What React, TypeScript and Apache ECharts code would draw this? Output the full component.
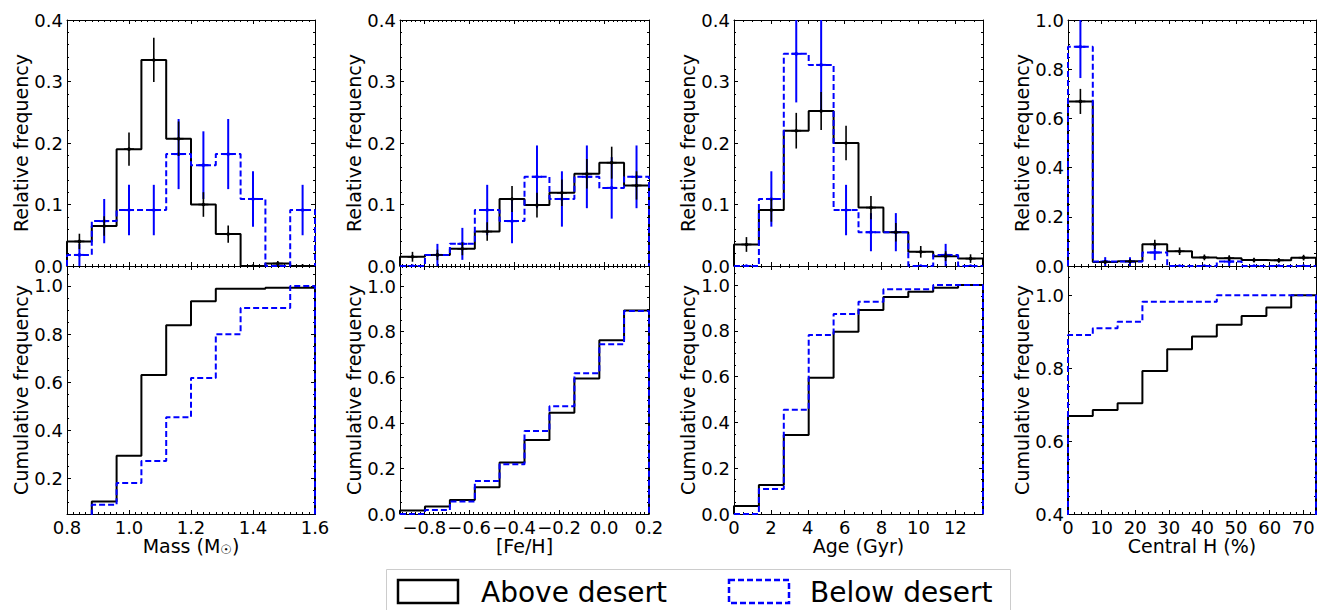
import React, { useEffect, useRef } from "react";
import * as echarts from "echarts";

// ---------- Mass ----------
const massEdges = [0.8, 0.88, 0.96, 1.04, 1.12, 1.2, 1.28, 1.36, 1.44, 1.52, 1.6];
const massAbove = [0.04, 0.065, 0.19, 0.335, 0.207, 0.1, 0.052, 0, 0.004, 0];
const massAboveErr = [0.0125, 0.016, 0.027, 0.036, 0.028, 0.02, 0.014, 0, 0.004, 0];
const massBelow = [0.018, 0.073, 0.091, 0.091, 0.182, 0.164, 0.182, 0.109, 0, 0.091];
const massBelowErr = [0.018, 0.036, 0.041, 0.041, 0.057, 0.055, 0.057, 0.045, 0, 0.041];
const massAboveCum = [0.04, 0.105, 0.295, 0.63, 0.837, 0.937, 0.989, 0.989, 0.993, 0.993];
const massBelowCum = [0.018, 0.091, 0.182, 0.273, 0.455, 0.618, 0.8, 0.909, 0.909, 1.0];

// ---------- [Fe/H] ----------
const feEdges = [-0.908, -0.797, -0.686, -0.575, -0.465, -0.354, -0.243, -0.132, -0.021, 0.089, 0.2];
const feAbove = [0.015, 0.018, 0.028, 0.056, 0.109, 0.099, 0.119, 0.15, 0.168, 0.131];
const feAboveErr = [0.008, 0.0085, 0.0105, 0.015, 0.021, 0.02, 0.0215, 0.024, 0.026, 0.023];
const feBelow = [0, 0.018, 0.036, 0.091, 0.073, 0.145, 0.109, 0.145, 0.127, 0.145];
const feBelowErr = [0, 0.018, 0.026, 0.041, 0.036, 0.051, 0.045, 0.051, 0.05, 0.051];
const feAboveCum = [0.015, 0.033, 0.061, 0.117, 0.226, 0.325, 0.444, 0.594, 0.762, 0.893];
const feBelowCum = [0, 0.018, 0.055, 0.145, 0.218, 0.364, 0.473, 0.618, 0.745, 0.891];

// ---------- Age ----------
const ageEdges = [0, 1.35, 2.7, 4.05, 5.4, 6.75, 8.1, 9.45, 10.8, 12.15, 13.5];
const ageAbove = [0.035, 0.091, 0.22, 0.252, 0.2, 0.095, 0.055, 0.023, 0.016, 0.012];
const ageAboveErr = [0.012, 0.019, 0.029, 0.031, 0.028, 0.019, 0.015, 0.0095, 0.008, 0.007];
const ageBelow = [0, 0.109, 0.345, 0.327, 0.091, 0.055, 0.055, 0, 0.018, 0];
const ageBelowErr = [0, 0.045, 0.079, 0.077, 0.041, 0.031, 0.031, 0, 0.018, 0];
const ageAboveCum = [0.035, 0.127, 0.345, 0.595, 0.796, 0.891, 0.948, 0.971, 0.988, 1.0];
const ageBelowCum = [0, 0.109, 0.455, 0.782, 0.873, 0.927, 0.982, 0.982, 1.0, 1.0];

// ---------- Central H ----------
const chEdges = [0, 7.38, 14.76, 22.14, 29.52, 36.9, 44.28, 51.66, 59.04, 66.42, 73.8];
const chAbove = [0.669, 0.016, 0.019, 0.088, 0.06, 0.035, 0.032, 0.024, 0.023, 0.034];
const chAboveErr = [0.051, 0.008, 0.0086, 0.0186, 0.0153, 0.0117, 0.0112, 0.0097, 0.0095, 0.0115];
const chBelow = [0.891, 0.018, 0.018, 0.055, 0, 0, 0.018, 0, 0, 0];
const chBelowErr = [0.127, 0.018, 0.018, 0.031, 0, 0, 0.018, 0, 0, 0];
const chAboveCum = [0.669, 0.685, 0.704, 0.792, 0.852, 0.887, 0.919, 0.943, 0.966, 1.0];
const chBelowCum = [0.891, 0.909, 0.927, 0.982, 0.982, 0.982, 1.0, 1.0, 1.0, 1.0];

// ---------- Labels ----------
const xTitles = ["Mass (M{s|☉})", "[Fe/H]", "Age (Gyr)", "Central H (%)"];
const topTitle = "Relative frequency";
const bottomTitle = "Cumulative frequency";
const legendLabels = ["Above desert", "Below desert"];

const BLACK = "#000000";
const BLUE = "#0000ff";
const FONT = "DejaVu Sans";

const colLeft = [67, 400, 734, 1068];
const colWidth = [248, 249, 249, 248];
const topY = 20;
const midY = 266;
const botY = 514;

const fmt1 = (v: number) => v.toFixed(1).replace("-", "\u2212");
const fmt0 = (v: number) => String(Math.round(v));

const panels = [
  {
    edges: massEdges, above: massAbove, aboveErr: massAboveErr, below: massBelow, belowErr: massBelowErr,
    aboveCum: massAboveCum, belowCum: massBelowCum,
    x: { min: 0.8, max: 1.6, interval: 0.2, minor: 10, fmt: fmt1, showMin: true, showMax: true },
    yTop: { min: 0, max: 0.4, interval: 0.1, minor: 5 },
    yBot: { min: 0.053, max: 1.083, splitNumber: 5, minor: 4, showMin: false },
  },
  {
    edges: feEdges, above: feAbove, aboveErr: feAboveErr, below: feBelow, belowErr: feBelowErr,
    aboveCum: feAboveCum, belowCum: feBelowCum,
    x: { min: -0.908, max: 0.2, splitNumber: 5, minor: 10, fmt: fmt1, showMin: false, showMax: true },
    yTop: { min: 0, max: 0.4, interval: 0.1, minor: 5 },
    yBot: { min: 0, max: 1.088, interval: 0.2, minor: 4, showMin: true },
  },
  {
    edges: ageEdges, above: ageAbove, aboveErr: ageAboveErr, below: ageBelow, belowErr: ageBelowErr,
    aboveCum: ageAboveCum, belowCum: ageBelowCum,
    x: { min: 0, max: 13.5, interval: 2, minor: 4, fmt: fmt0, showMin: true, showMax: false },
    yTop: { min: 0, max: 0.4, interval: 0.1, minor: 5 },
    yBot: { min: 0, max: 1.083, interval: 0.2, minor: 4, showMin: true },
  },
  {
    edges: chEdges, above: chAbove, aboveErr: chAboveErr, below: chBelow, belowErr: chBelowErr,
    aboveCum: chAboveCum, belowCum: chBelowCum,
    x: { min: 0, max: 73.8, interval: 10, minor: 5, fmt: fmt0, showMin: true, showMax: false },
    yTop: { min: 0, max: 1.0, interval: 0.2, minor: 4 },
    yBot: { min: 0.4, max: 1.08, interval: 0.2, minor: 4, showMin: true },
  },
];

function stepPoints(edges: number[], vals: number[]) {
  const pts: number[][] = [[edges[0], 0]];
  for (let i = 0; i < vals.length; i++) {
    pts.push([edges[i], vals[i]]);
    pts.push([edges[i + 1], vals[i]]);
  }
  pts.push([edges[edges.length - 1], 0]);
  return pts;
}

function axisCommon(minor: number, showLabel: boolean) {
  return {
    axisLine: { show: true, onZero: false, lineStyle: { color: BLACK, width: 1 } },
    axisTick: { show: true, inside: true, length: 4, lineStyle: { color: BLACK, width: 1 } },
    minorTick: { show: true, splitNumber: minor, length: 2, lineStyle: { color: BLACK, width: 1 } },
    splitLine: { show: false },
    minorSplitLine: { show: false },
    axisLabel: { show: showLabel },
  };
}

function rangeOf(r: any) {
  const o: any = { min: r.min, max: r.max };
  if (r.interval !== undefined) o.interval = r.interval;
  if (r.splitNumber !== undefined) o.splitNumber = r.splitNumber;
  return o;
}

function stepSeries(gi: number, edges: number[], vals: number[], color: string, dashed: boolean) {
  return {
    type: "line",
    xAxisIndex: 2 * gi,
    yAxisIndex: 2 * gi,
    data: stepPoints(edges, vals),
    symbol: "none",
    silent: true,
    clip: true,
    lineStyle: { color, width: 2, type: dashed ? [6, 3] : "solid" },
    z: dashed ? 3 : 2,
  };
}

function errorSeries(gi: number, edges: number[], vals: number[], errs: number[], color: string, lw: number, z: number) {
  const data = vals.map((v, i) => [(edges[i] + edges[i + 1]) / 2, v, errs[i]]);
  return {
    type: "custom",
    xAxisIndex: 2 * gi,
    yAxisIndex: 2 * gi,
    silent: true,
    clip: true,
    z,
    data,
    renderItem: (params: any, api: any) => {
      const x = api.value(0);
      const y = api.value(1);
      const e = api.value(2);
      const cs = params.coordSys;
      const p = api.coord([x, y]);
      const t = api.coord([x, y + e]);
      const b = api.coord([x, y - e]);
      const clamp = (yy: number) => Math.max(cs.y, Math.min(cs.y + cs.height, yy));
      const children: any[] = [];
      if (e > 0) {
        children.push({
          type: "line",
          shape: { x1: p[0], y1: clamp(t[1]), x2: p[0], y2: clamp(b[1]) },
          style: { stroke: color, lineWidth: lw },
        });
      }
      children.push({
        type: "line",
        shape: { x1: p[0] - 5, y1: p[1], x2: p[0] + 5, y2: p[1] },
        style: { stroke: color, lineWidth: lw },
      });
      children.push({ type: "circle", shape: { cx: p[0], cy: p[1], r: 1.8 }, style: { fill: color } });
      return { type: "group", children };
    },
  };
}

function buildOption() {
  const grid: any[] = [];
  const xAxis: any[] = [];
  const yAxis: any[] = [];
  const series: any[] = [];

  panels.forEach((p, c) => {
    const giTop = 2 * c;
    const giBot = 2 * c + 1;
    grid.push({ left: colLeft[c], width: colWidth[c], top: topY, height: midY - topY });
    grid.push({ left: colLeft[c], width: colWidth[c], top: midY, height: botY - midY });

    [giTop, giBot].forEach((gi) => {
      const isBot = gi === giBot;
      const xr = rangeOf(p.x);
      xAxis.push({
        type: "value",
        gridIndex: gi,
        position: "bottom",
        ...xr,
        ...axisCommon(p.x.minor, isBot),
        axisLabel: {
          show: isBot,
          margin: 4,
          color: BLACK,
          fontSize: 18,
          fontFamily: FONT,
          formatter: p.x.fmt,
          showMinLabel: p.x.showMin,
          showMaxLabel: p.x.showMax,
        },
        name: isBot ? xTitles[c] : "",
        nameLocation: "middle",
        nameGap: 22,
        nameTextStyle: {
          color: BLACK,
          fontSize: 19,
          fontFamily: FONT,
          rich: { s: { fontSize: 13, fontFamily: FONT, color: BLACK, verticalAlign: "bottom", padding: [6, 0, 0, 0] } },
        },
      });
      xAxis.push({
        type: "value",
        gridIndex: gi,
        position: "top",
        ...xr,
        ...axisCommon(p.x.minor, false),
      });

      const yr = isBot ? p.yBot : p.yTop;
      const yRange = rangeOf(yr);
      yAxis.push({
        type: "value",
        gridIndex: gi,
        position: "left",
        ...yRange,
        ...axisCommon(yr.minor, true),
        axisLabel: {
          show: true,
          margin: 4,
          color: BLACK,
          fontSize: 18,
          fontFamily: FONT,
          formatter: fmt1,
          showMinLabel: isBot ? (yr as any).showMin : true,
          showMaxLabel: isBot ? false : true,
        },
        name: isBot ? bottomTitle : topTitle,
        nameLocation: "middle",
        nameGap: 36,
        nameTextStyle: { color: BLACK, fontSize: 19, fontFamily: FONT },
      });
      yAxis.push({
        type: "value",
        gridIndex: gi,
        position: "right",
        ...yRange,
        ...axisCommon(yr.minor, false),
      });
    });

    series.push(stepSeries(giTop, p.edges, p.above, BLACK, false));
    series.push(stepSeries(giTop, p.edges, p.below, BLUE, true));
    series.push(errorSeries(giTop, p.edges, p.below, p.belowErr, BLUE, 2, 4));
    series.push(errorSeries(giTop, p.edges, p.above, p.aboveErr, BLACK, 1.6, 5));
    series.push(stepSeries(giBot, p.edges, p.aboveCum, BLACK, false));
    series.push(stepSeries(giBot, p.edges, p.belowCum, BLUE, true));
  });

  const graphic: any[] = [
    {
      type: "rect",
      shape: { x: 386.5, y: 569.5, width: 624, height: 60 },
      style: { fill: "#ffffff", stroke: "#cccccc", lineWidth: 1 },
      silent: true,
    },
    {
      type: "rect",
      shape: { x: 398, y: 580, width: 60, height: 23 },
      style: { fill: "none", stroke: BLACK, lineWidth: 2.5 },
      silent: true,
    },
    {
      type: "text",
      x: 481,
      y: 592,
      style: { text: legendLabels[0], fill: BLACK, fontSize: 28, fontFamily: FONT, verticalAlign: "middle", align: "left" },
      silent: true,
    },
    {
      type: "rect",
      shape: { x: 729, y: 580, width: 60, height: 23 },
      style: { fill: "none", stroke: BLUE, lineWidth: 2.5, lineDash: [6, 3] },
      silent: true,
    },
    {
      type: "text",
      x: 810,
      y: 592,
      style: { text: legendLabels[1], fill: BLACK, fontSize: 28, fontFamily: FONT, verticalAlign: "middle", align: "left" },
      silent: true,
    },
  ];

  return {
    animation: false,
    backgroundColor: "#ffffff",
    textStyle: { fontFamily: FONT },
    grid,
    xAxis,
    yAxis,
    series,
    graphic,
  };
}

export default function App() {
  const ref = useRef<HTMLDivElement>(null);
  useEffect(() => {
    if (!ref.current) return;
    const chart = echarts.init(ref.current, undefined, { renderer: "svg" });
    chart.setOption(buildOption() as any);
    return () => chart.dispose();
  }, []);
  return (
    <div
      ref={ref}
      style={{ position: "fixed", left: 0, top: 0, width: 1322, height: 610, background: "#fff" }}
    />
  );
}
